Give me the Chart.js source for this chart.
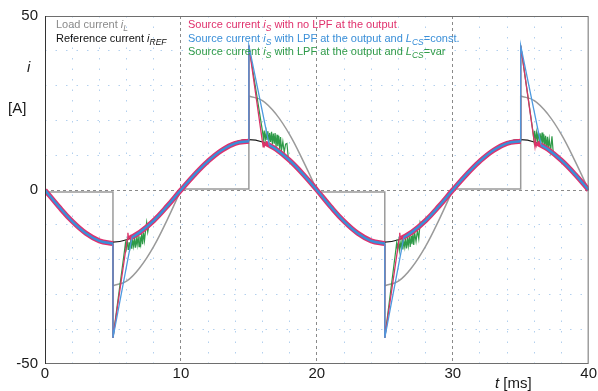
<!DOCTYPE html>
<html lang="en">
<head>
<meta charset="UTF-8">
<title>Load, reference and source currents</title>
<script src="https://cdn.jsdelivr.net/npm/chart.js"></script>
<style>
  body { margin: 0; background: #fff; }
  .wrap { position: relative; width: 598px; height: 391px; font-family: "Liberation Sans", Arial, sans-serif; }
  .box { position: absolute; left: 0; top: 0; width: 598px; height: 391px; }
  .lbl { position: absolute; white-space: nowrap; font-size: 11px; line-height: 14px; }
  .lbl sub, .axis sub { font-size: 8.5px; line-height: 0; vertical-align: -3px; }
  .axis { position: absolute; white-space: nowrap; font-size: 15px; line-height: 18px; color: #1a1a1a; }
</style>
</head>
<body>
<div class="wrap">
  <div class="box"><canvas id="currentChart"></canvas></div>
  <div class="lbl" style="left:56px;top:17px;color:#8a8a8a">Load current <i>i<sub>L</sub></i></div>
  <div class="lbl" style="left:56px;top:31px;color:#111">Reference current <i>i<sub>REF</sub></i></div>
  <div class="lbl" style="left:188px;top:17px;color:#e0306c">Source current <i>i<sub>S</sub></i> with no LPF at the output</div>
  <div class="lbl" style="left:188px;top:31px;color:#3a8fd8">Source current <i>i<sub>S</sub></i> with LPF at the output and <i>L<sub>CS</sub></i>=const.</div>
  <div class="lbl" style="left:188px;top:44px;color:#2e9a48">Source current <i>i<sub>S</sub></i> with LPF at the output and <i>L<sub>CS</sub></i>=var</div>
  <div class="axis" style="left:27px;top:58px"><i>i</i></div>
  <div class="axis" style="left:8px;top:99px">[A]</div>
  <div class="axis" style="left:495px;top:374px"><i>t</i> [ms]</div>
</div>

<script>
// reference current (smooth sine), t in ms, i in A
const tRef = [0,1,2,3,4,5,6,7,8,9,10,11,12,13,14,15,16,17,18,19,20,21,22,23,24,25,26,27,28,29,30,31,32,33,34,35,36,37,38,39,40];
const iRef = [0,-4.6,-8.8,-12.1,-14.3,-15,-14.3,-12.1,-8.8,-4.6,0,4.5,8.5,11.7,13.8,14.5,13.8,11.7,8.5,4.5,0,-4.6,-8.8,-12.1,-14.3,-15,-14.3,-12.1,-8.8,-4.6,0,4.5,8.5,11.7,13.8,14.5,13.8,11.7,8.5,4.5,0];

// load current: flat parts with the jumps, then the decaying arcs
const loadStepT = [0,5,5,null,10,15,15,null,20,25,25,null,30,35,35];
const loadStepI = [-0.6,-0.6,-27.5,null,0.3,0.3,27,null,-0.6,-0.6,-27.5,null,0.3,0.3,27];
const loadArcT = [5,6,7,8,9,10,null,15,16,17,18,19,20,null,25,26,27,28,29,30,null,35,36,37,38,39,40];
const loadArcI = [-27.5,-26.2,-22.2,-16.2,-8.5,0,null,27,25.7,21.8,15.9,8.3,0,null,-27.5,-26.2,-22.2,-16.2,-8.5,0,null,27,25.7,21.8,15.9,8.3,0];

// source current, no LPF (pink)
const pinkT = [0,1,2,3,4,5,null,6.2,7,8,9,10,11,12,13,14,15,null,16.2,17,18,19,20,21,22,23,24,25,null,26.2,27,28,29,30,31,32,33,34,35,null,36.2,37,38,39,40];
const pinkI = [0,-4.7,-9,-12.4,-14.6,-15.4,null,-13.9,-12.1,-8.8,-4.6,0,4.4,8.3,11.4,13.4,14,null,13.5,11.7,8.5,4.5,0,-4.7,-9,-12.4,-14.6,-15.4,null,-13.9,-12.1,-8.8,-4.6,0,4.4,8.3,11.4,13.4,14,null,13.5,11.7,8.5,4.5,0];
const pinkSpikeT = [5,5,6.05,6.1,6.15,6.2,null,15,15,16.05,16.1,16.15,16.2,null,25,25,26.05,26.1,26.15,26.2,null,35,35,36.05,36.1,36.15,36.2];
const pinkSpikeI = [-15.4,-42.5,-14.2,-12.3,-14.1,-13.9,null,14,41.5,12.4,14,12.8,13.5,null,-15.4,-42.5,-14.2,-12.3,-14.1,-13.9,null,14,41.5,12.4,14,12.8,13.5];

// source current, LPF and L_CS = const (blue)
const blueT = [0,1,2,3,4,5,null,6.4,7,8,9,10,11,12,13,14,15,null,16.5,17,18,19,20,21,22,23,24,25,null,26.4,27,28,29,30,31,32,33,34,35,null,36.5,37,38,39,40];
const blueI = [0,-4.7,-9,-12.4,-14.6,-15.4,null,-13.6,-12.1,-8.8,-4.6,0,4.4,8.3,11.4,13.4,14,null,12.9,11.7,8.5,4.5,0,-4.7,-9,-12.4,-14.6,-15.4,null,-13.6,-12.1,-8.8,-4.6,0,4.4,8.3,11.4,13.4,14,null,12.9,11.7,8.5,4.5,0];
const blueSpikeT = [5,5,6.4,null,15,15,16.5,null,25,25,26.4,null,35,35,36.5];
const blueSpikeI = [-15.4,-42.5,-13.6,null,14,41.5,12.9,null,-15.4,-42.5,-13.6,null,14,41.5,12.9];

// source current, LPF and L_CS = var (green)
const greenT = [0,1,2,3,4,5,null,8,9,10,11,12,13,14,15,null,18,19,20,21,22,23,24,25,null,28,29,30,31,32,33,34,35,null,38,39,40];
const greenI = [0,-4.7,-9,-12.4,-14.6,-15.4,null,-8.8,-4.6,0,4.4,8.3,11.4,13.4,14,null,8.5,4.5,0,-4.7,-9,-12.4,-14.6,-15.4,null,-8.8,-4.6,0,4.4,8.3,11.4,13.4,14,null,8.5,4.5,0];
const greenSpikeT = [5,5,5.85,5.92,5.98,6.05,6.12,6.18,6.25,6.32,6.38,6.45,6.52,6.58,6.65,6.72,6.78,6.85,6.92,6.98,7.05,7.12,7.18,7.25,7.32,7.4,7.48,7.56,7.65,8,null,
  15,15,16,16.07,16.13,16.2,16.27,16.33,16.4,16.47,16.53,16.6,16.67,16.73,16.8,16.87,16.93,17,17.07,17.13,17.2,17.27,17.33,17.4,17.5,17.6,17.7,17.8,17.9,18,null,
  25,25,25.8,25.87,25.93,26,26.07,26.13,26.2,26.27,26.33,26.4,26.47,26.53,26.6,26.67,26.73,26.8,26.87,26.93,27,27.07,27.13,27.2,27.3,27.4,27.5,27.6,27.7,28,null,
  35,35,35.9,35.97,36.03,36.1,36.17,36.23,36.3,36.37,36.43,36.5,36.57,36.63,36.7,36.77,36.83,36.9,36.97,37.03,37.1,37.2,37.3,37.4,37.5,38];
const greenSpikeI = [-15.4,-42.5,-17.4,-15.2,-16.8,-14.6,-17.1,-15,-16.5,-14.2,-16.9,-14.5,-16.2,-13.8,-16.6,-13.9,-15.8,-13.2,-16.3,-13.3,-15.5,-12.5,-15.6,-12.2,-14.6,-11.6,-9.3,-12.1,-10.2,-8.8,null,
  14,41.5,16.9,14.6,17.1,14.2,16.6,14.4,16.9,13.6,16.4,13.8,16.7,13.1,16.2,13.3,16.4,12.4,15.9,12.6,15.6,11.7,15.2,11.4,13.9,10.8,13.2,13.4,9.2,8.5,null,
  -15.4,-42.5,-17.6,-15.3,-17,-14.8,-17.3,-15,-16.7,-14.4,-17.1,-14.6,-16.4,-13.9,-16.8,-14,-16,-13.3,-16.4,-13.2,-15.6,-12.6,-15.8,-12.3,-14.8,-11.6,-14,-9.3,-10.4,-8.8,null,
  14,41.5,16.8,14.5,17,14.1,16.5,14.2,16.8,13.5,16.3,13.6,16.5,12.9,16,12.9,15.6,12.1,15.3,11.8,14.6,11.2,15.4,10.4,9.9,8.5];

const yLabels = [-50, 0, 50];
const xLabels = [0, 10, 20, 30, 40];

function pts(t, i) {
    return t.map((x, k) => ({ x: x, y: i[k] }));
}

function line(label, t, i, color, width, tension, order) {
    return {
        label: label,
        data: pts(t, i),
        borderColor: color,
        borderWidth: width,
        tension: tension,
        pointRadius: 0,
        fill: false,
        order: order
    };
}

const datasets = [
    line('iS const', blueT, blueI, '#3a8fd8', 2.5, 0.4, 1),
    line('iS const jump', blueSpikeT, blueSpikeI, '#4d9ae0', 1.3, 0, 2),
    line('iS no LPF jump', pinkSpikeT, pinkSpikeI, '#d83468', 1.3, 0, 3),
    line('iS no LPF', pinkT, pinkI, '#e0306c', 5, 0.4, 4),
    line('iS var jump', greenSpikeT, greenSpikeI, '#2e9a48', 1.2, 0, 5),
    line('iS var', greenT, greenI, '#2e9a48', 1.3, 0.4, 6),
    line('iREF', tRef, iRef, '#1a1a1a', 1.2, 0.4, 7),
    line('iL step', loadStepT, loadStepI, '#9a9a9a', 1.5, 0, 8),
    line('iL', loadArcT, loadArcI, '#9a9a9a', 1.5, 0.4, 9)
];

const dotted = '#b3d0ee';
const dashed = '#8a8a8a';

// frame round the plot area
const framePlugin = {
    id: 'frame',
    afterDatasetsDraw(chart) {
        const a = chart.chartArea;
        const c = chart.ctx;
        c.save();
        c.strokeStyle = '#6e6e6e';
        c.lineWidth = 1;
        c.strokeRect(a.left + 0.5, a.top + 0.5, a.right - a.left - 1, a.bottom - a.top - 1);
        c.strokeStyle = '#333';
        c.beginPath();
        c.moveTo(a.left + 0.5, a.top);
        c.lineTo(a.left + 0.5, a.bottom);
        c.stroke();
        c.restore();
    }
};

Chart.defaults.font.family = '"Liberation Sans", Arial, sans-serif';

const ctx = document.getElementById('currentChart').getContext('2d');
const currentChart = new Chart(ctx, {
    type: 'line',
    data: { datasets: datasets },
    options: {
        responsive: true,
        maintainAspectRatio: false,
        animation: false,
        layout: { padding: { top: 15, right: 9, left: 0, bottom: 0 } },
        plugins: { legend: { display: false }, tooltip: { enabled: false } },
        scales: {
            x: {
                type: 'linear',
                min: 0,
                max: 40,
                afterFit: s => { s.height = 27; },
                ticks: {
                    stepSize: 2,
                    autoSkip: false,
                    maxRotation: 0,
                    padding: 1,
                    color: '#1a1a1a',
                    font: { size: 15 },
                    callback: v => xLabels.includes(v) ? v : ''
                },
                grid: {
                    drawTicks: false,
                    lineWidth: 1,
                    color: c => {
                        const v = c.tick ? c.tick.value : null;
                        if (v === 0 || v === 40) return 'rgba(0,0,0,0)';
                        return v % 10 === 0 ? dashed : dotted;
                    }
                },
                border: {
                    display: false,
                    dash: c => (c.tick && c.tick.value % 10 === 0) ? [3, 3] : [1.5, 9]
                }
            },
            y: {
                min: -50,
                max: 50,
                afterFit: s => { s.width = 45; },
                ticks: {
                    stepSize: 10,
                    autoSkip: false,
                    padding: 7,
                    color: '#1a1a1a',
                    font: { size: 15 },
                    callback: v => yLabels.includes(v) ? v : ''
                },
                grid: {
                    drawTicks: false,
                    lineWidth: 1,
                    color: c => {
                        const v = c.tick ? c.tick.value : null;
                        if (v === 50 || v === -50) return 'rgba(0,0,0,0)';
                        return v === 0 ? dashed : dotted;
                    }
                },
                border: {
                    display: false,
                    dash: c => (c.tick && c.tick.value === 0) ? [3, 3] : [1.5, 9]
                }
            }
        }
    },
    plugins: [framePlugin]
});
</script>
</body>
</html>
